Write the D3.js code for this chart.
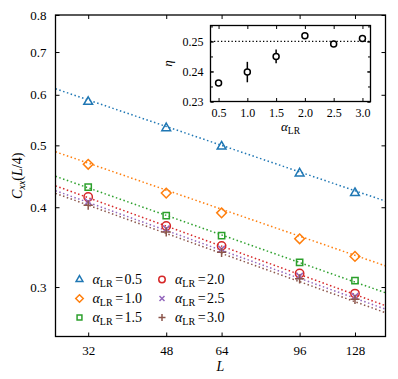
<!DOCTYPE html>
<html>
<head>
<meta charset="utf-8">
<script src="https://cdn.jsdelivr.net/npm/d3@7"></script>
<style>
  body { margin: 0; background: #fff; }
  svg text { font-family: "Liberation Serif", "DejaVu Serif", serif; }
</style>
</head>
<body>
<div id="chart"></div>
<script>
// system sizes and tick labels
const sizes = [32, 48, 64, 96, 128];
const yTicks = [0.3, 0.4, 0.5, 0.6, 0.7, 0.8];
const alphas = [0.5, 1.0, 1.5, 2.0, 2.5, 3.0];
const alphaLabels = ['0.5', '1.0', '1.5', '2.0', '2.5', '3.0'];

// C_xx(L/4) per alpha_LR, one row per series
const cxx = [
  [0.585, 0.532, 0.498, 0.452, 0.421],
  [0.467, 0.421, 0.392, 0.357, 0.335],
  [0.430, 0.388, 0.361, 0.328, 0.307],
  [0.415, 0.374, 0.348, 0.315, 0.293],
  [0.408, 0.370, 0.344, 0.312, 0.290],
  [0.403, 0.366, 0.340, 0.309, 0.287]
];
// fitted power law: value at L = 32 and exponent eta
const fitAt32 = [0.589, 0.469, 0.429, 0.414, 0.407, 0.403];
const eta = [0.2362, 0.2398, 0.2450, 0.2519, 0.2491, 0.2510];
const etaErr = [0.0008, 0.0034, 0.0023, 0.0005, 0.0005, 0.0005];
const etaTicks = [0.23, 0.24, 0.25];

const colors = ['#1f77b4', '#ff7f0e', '#2ca02c', '#d62728', '#9467bd', '#8c564b'];
const symbols = [d3.symbolTriangle2, d3.symbolDiamond2, d3.symbolSquare2, d3.symbolCircle, d3.symbolTimes, d3.symbolPlus];
const symSizes = [55, 60, 50, 55, 30, 30];

const W = 398, H = 379;
const m = { left: 55.5, right: 385.5, top: 15, bottom: 336.5 };
const serif = '"Liberation Serif", "DejaVu Serif", serif';

const svg = d3.select('#chart').append('svg')
  .attr('width', W)
  .attr('height', H);

const x = d3.scaleLog().domain([27, 150]).range([m.left, m.right]);
const y = d3.scaleLog().domain([0.251, 0.8]).range([m.bottom, m.top]);

svg.append('clipPath').attr('id', 'clip')
  .append('rect')
  .attr('x', m.left).attr('y', m.top)
  .attr('width', m.right - m.left).attr('height', m.bottom - m.top);

// fit lines
const plot = svg.append('g').attr('clip-path', 'url(#clip)');
fitAt32.forEach((a, i) => {
  const f = L => a * Math.pow(L / 32, -eta[i]);
  const ends = x.domain();
  plot.append('line')
    .attr('x1', x(ends[0])).attr('y1', y(f(ends[0])))
    .attr('x2', x(ends[1])).attr('y2', y(f(ends[1])))
    .attr('stroke', colors[i])
    .attr('stroke-width', 1.5)
    .attr('stroke-dasharray', '1.5,2.5');
});

// markers
cxx.forEach((row, i) => {
  plot.selectAll('.m' + i)
    .data(row)
    .enter().append('path')
    .attr('transform', (d, j) => `translate(${x(sizes[j])},${y(d)})`)
    .attr('d', d3.symbol(symbols[i], symSizes[i]))
    .attr('fill', 'none')
    .attr('stroke', colors[i])
    .attr('stroke-width', 1.5);
});

// axes, ticks inward on all sides
const tickLen = 4;
svg.append('g')
  .attr('transform', `translate(0,${m.bottom})`)
  .call(d3.axisBottom(x).tickValues(sizes).tickFormat(d3.format('d')).tickSizeInner(-tickLen).tickSizeOuter(0).tickPadding(9));
svg.append('g')
  .attr('transform', `translate(0,${m.top})`)
  .call(d3.axisTop(x).tickValues(sizes).tickFormat('').tickSizeInner(-tickLen).tickSizeOuter(0));
svg.append('g')
  .attr('transform', `translate(${m.left},0)`)
  .call(d3.axisLeft(y).tickValues(yTicks).tickFormat(d3.format('.1f')).tickSizeInner(-tickLen).tickSizeOuter(0).tickPadding(9));
svg.append('g')
  .attr('transform', `translate(${m.right},0)`)
  .call(d3.axisRight(y).tickValues(yTicks).tickFormat('').tickSizeInner(-tickLen).tickSizeOuter(0));

svg.selectAll('.domain').remove();
svg.selectAll('.tick line').attr('stroke', '#000').attr('stroke-width', 1);
svg.selectAll('.tick text').attr('font-size', 13).attr('fill', '#000');
svg.selectAll('g').attr('font-family', serif);

svg.append('rect')
  .attr('x', m.left).attr('y', m.top)
  .attr('width', m.right - m.left).attr('height', m.bottom - m.top)
  .attr('fill', 'none').attr('stroke', '#000').attr('stroke-width', 1.3);

// axis titles
svg.append('text')
  .attr('x', (m.left + m.right) / 2).attr('y', 371)
  .attr('text-anchor', 'middle').attr('font-size', 14).attr('font-style', 'italic')
  .attr('font-family', serif)
  .text('L');

const yl = svg.append('text')
  .attr('transform', `translate(22,${(m.top + m.bottom) / 2}) rotate(-90)`)
  .attr('text-anchor', 'middle').attr('font-size', 14).attr('font-family', serif);
yl.append('tspan').attr('font-style', 'italic').text('C');
yl.append('tspan').attr('font-style', 'italic').attr('font-size', 10).attr('dy', 3).text('xx');
yl.append('tspan').attr('dy', -3).text('(');
yl.append('tspan').attr('font-style', 'italic').text('L');
yl.append('tspan').text('/4)');

// legend
const leg = svg.append('g').attr('font-family', serif);
alphaLabels.forEach((lab, i) => {
  const col = Math.floor(i / 3), row = i % 3;
  const lx = 79.5 + col * 82.5, ly = 279.5 + row * 19;
  leg.append('path')
    .attr('transform', `translate(${lx},${ly})`)
    .attr('d', d3.symbol(symbols[i], symSizes[i] * 0.6))
    .attr('fill', 'none').attr('stroke', colors[i]).attr('stroke-width', 1.5);
  const t = leg.append('text').attr('x', lx + 13).attr('y', ly + 4.5).attr('font-size', 14);
  t.append('tspan').attr('font-style', 'italic').text('α');
  t.append('tspan').attr('font-size', 10).attr('dy', 2.5).text('LR');
  t.append('tspan').attr('dy', -2.5).attr('dx', 2.5).text('=');
  t.append('tspan').attr('dx', 1.5).text(lab);
});

// inset
const im = { left: 210.5, right: 370.5, top: 25.5, bottom: 101.5 };
const ix = d3.scaleLinear().domain([0.36, 3.14]).range([im.left, im.right]);
const iy = d3.scaleLinear().domain([0.23, 0.2553]).range([im.bottom, im.top]);

const inset = svg.append('g').attr('font-family', serif);
inset.append('rect')
  .attr('x', im.left).attr('y', im.top)
  .attr('width', im.right - im.left).attr('height', im.bottom - im.top)
  .attr('fill', '#fff');

const minorY = d3.range(0.23, 0.2556, 0.005);
const itick = 3.5;
inset.append('g').attr('transform', `translate(0,${im.bottom})`)
  .call(d3.axisBottom(ix).tickValues(alphas).tickFormat(d3.format('.1f')).tickSizeInner(-itick).tickSizeOuter(0).tickPadding(7));
inset.append('g').attr('transform', `translate(0,${im.top})`)
  .call(d3.axisTop(ix).tickValues(alphas).tickFormat('').tickSizeInner(-itick).tickSizeOuter(0));
inset.append('g').attr('transform', `translate(${im.left},0)`)
  .call(d3.axisLeft(iy).tickValues(etaTicks).tickFormat(d3.format('.2f')).tickSizeInner(-itick).tickSizeOuter(0).tickPadding(7));
inset.append('g').attr('transform', `translate(${im.left},0)`)
  .call(d3.axisLeft(iy).tickValues(minorY).tickFormat('').tickSizeInner(-2.5).tickSizeOuter(0));
inset.append('g').attr('transform', `translate(${im.right},0)`)
  .call(d3.axisRight(iy).tickValues(minorY).tickFormat('').tickSizeInner(-2.5).tickSizeOuter(0));
inset.append('g').attr('transform', `translate(${im.right},0)`)
  .call(d3.axisRight(iy).tickValues(etaTicks).tickFormat('').tickSizeInner(-itick).tickSizeOuter(0));

inset.selectAll('.domain').remove();
inset.selectAll('.tick line').attr('stroke', '#000').attr('stroke-width', 1);
inset.selectAll('.tick text').attr('font-size', 12).attr('fill', '#000');
inset.selectAll('g').attr('font-family', serif);

inset.append('line')
  .attr('x1', im.left).attr('x2', im.right)
  .attr('y1', iy(0.25)).attr('y2', iy(0.25))
  .attr('stroke', '#000').attr('stroke-width', 1.3).attr('stroke-dasharray', '1.3,2.2');

inset.selectAll('.err')
  .data(alphas)
  .enter().append('line')
  .attr('x1', d => ix(d)).attr('x2', d => ix(d))
  .attr('y1', (d, i) => iy(eta[i] - etaErr[i]))
  .attr('y2', (d, i) => iy(eta[i] + etaErr[i]))
  .attr('stroke', '#000').attr('stroke-width', 1.5);

inset.selectAll('.pt')
  .data(alphas)
  .enter().append('circle')
  .attr('cx', d => ix(d))
  .attr('cy', (d, i) => iy(eta[i]))
  .attr('r', 3)
  .attr('fill', '#fff').attr('stroke', '#000').attr('stroke-width', 1.5);

inset.append('rect')
  .attr('x', im.left).attr('y', im.top)
  .attr('width', im.right - im.left).attr('height', im.bottom - im.top)
  .attr('fill', 'none').attr('stroke', '#000').attr('stroke-width', 1.3);

const il = inset.append('text')
  .attr('x', (im.left + im.right) / 2).attr('y', 131)
  .attr('text-anchor', 'middle').attr('font-size', 13);
il.append('tspan').attr('font-style', 'italic').text('α');
il.append('tspan').attr('font-size', 9.5).attr('dy', 2.5).text('LR');

inset.append('text')
  .attr('transform', `translate(172,${(im.top + im.bottom) / 2}) rotate(-90)`)
  .attr('text-anchor', 'middle').attr('font-size', 13).attr('font-style', 'italic')
  .text('η');
</script>
</body>
</html>
